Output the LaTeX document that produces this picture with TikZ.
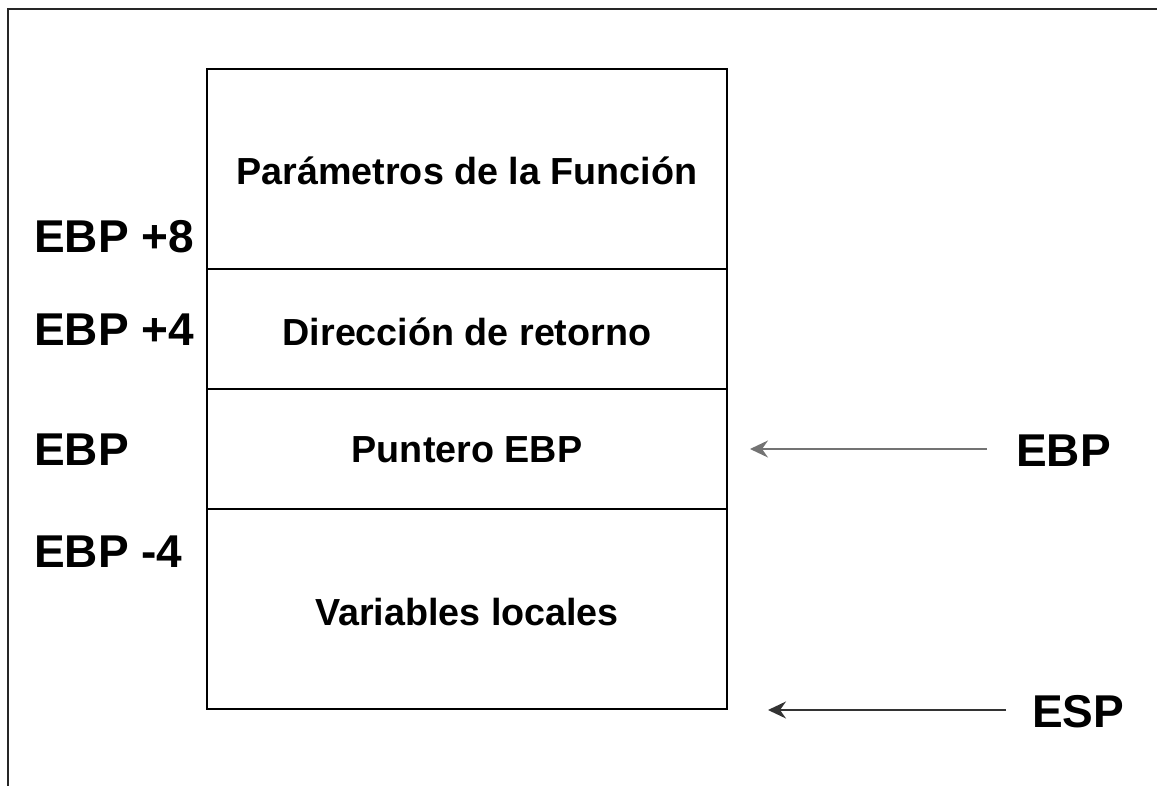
\documentclass[tikz,border=0pt]{standalone}
\usepackage{fontspec}
\setmainfont{Liberation Sans}
\usetikzlibrary{arrows.meta}
\begin{document}
\begin{tikzpicture}[x=1pt,y=-1pt,
  cell/.style={draw=black,line width=1.3pt,minimum width=520pt,inner sep=0pt},
  celltext/.style={inner sep=0pt,font=\fontsize{37.7}{40}\selectfont\bfseries},
  lbl/.style={inner sep=0pt,anchor=west,font=\fontsize{46}{50}\selectfont\bfseries},
  ptr/.style={line width=1.8pt,-{Stealth[length=18pt,width=17pt,inset=6pt]}}]
\useasboundingbox (0,0) rectangle (1157,786);
\draw[line width=2.2pt,color=black!85] (8,786) -- (8,9) -- (1157,9);
\node[cell,minimum height=200pt] (p) at (467,169) {};
\node[cell,minimum height=120pt] (d) at (467,329) {};
\node[cell,minimum height=120pt] (e) at (467,449) {};
\node[cell,minimum height=200pt] (v) at (467,609) {};
\node[celltext] (pt) at (467,171) {Parámetros de la Función};
\node[celltext] (dt) at (467,332) {Dirección de retorno};
\node[celltext] (et) at (467,450) {Puntero EBP};
\node[celltext] (vt) at (467,612) {Variables locales};
\node[lbl] (l8) at (34,237) {EBP +8};
\node[lbl] (l4) at (34,330) {EBP +4};
\node[lbl] (l0) at (34,450) {EBP};
\node[lbl] (lm) at (34,552) {EBP -4};
\node[lbl] (rebp) at (1016,451) {EBP};
\node[lbl] (resp) at (1032,712) {ESP};
\coordinate (a1s) at (987,449);
\coordinate (a1e) at (750,449);
\coordinate (a2s) at (1006,710);
\coordinate (a2e) at (768,710);
\draw[ptr,color=black!55] (a1s) -- (a1e);
\draw[ptr,color=black!80] (a2s) -- (a2e);
\end{tikzpicture}
\end{document}
